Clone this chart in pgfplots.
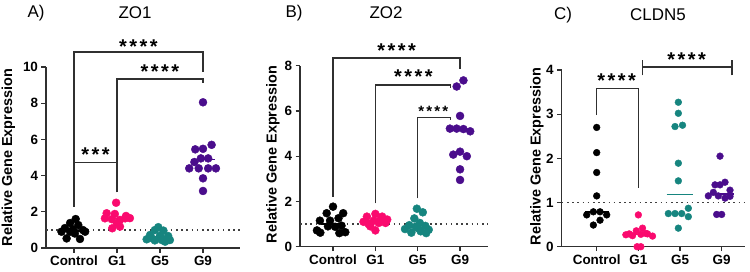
\documentclass[border=0pt]{standalone}
\usepackage{pgfplots}
\pgfplotsset{compat=1.18}
\usepackage{fontspec}
\setmainfont{Liberation Sans}
\definecolor{cpink}{HTML}{FA0A6E}
\definecolor{cteal}{HTML}{16857F}
\definecolor{cpurple}{HTML}{4A0D8C}
\definecolor{cline}{HTML}{303030}
\tikzset{brk/.style={line width=1.3bp, cline}}
\pgfplotsset{
  panel/.style={
    scale only axis, clip=false,
    axis x line=bottom, axis y line=left,
    axis line style={-, line width=1.3bp, cline},
    tick style={line width=1.3bp, cline},
    tick align=outside, major tick length=4.5bp,
    xtick={0,1,2,3}, xticklabels={Control,G1,G5,G9},
    ticklabel style={font=\fontsize{13.5}{13.5}\selectfont\bfseries},
    /pgf/number format/assume math mode=true,
    ymin=0,
    ylabel={Relative Gene Expression},
  },
  ylab/.style={every axis y label/.style={at={(axis description cs:#1)}, rotate=90, anchor=center,
     font=\fontsize{14.5}{14.5}\selectfont\bfseries}},
  dots/.style={only marks, mark=*, mark size=#1},
  med/.style={line width=1.5bp},
  dotl/.style={line width=1.6bp, black!75, dash pattern=on 1.6bp off 3.6bp},
}
\newcommand{\stars}[3]{{\fontsize{#1}{#1}\selectfont\bfseries #3}}
\begin{document}
\begin{tikzpicture}
\path[use as bounding box] (0,0) rectangle (750bp,272bp);
% titles
\node[font=\fontsize{17}{17}\selectfont] at (36bp,259bp) {A)};
\node[font=\fontsize{17}{17}\selectfont] at (135bp,259bp) {ZO1};
\node[font=\fontsize{17}{17}\selectfont] at (294bp,259bp) {B)};
\node[font=\fontsize{17}{17}\selectfont] at (386bp,259bp) {ZO2};
\node[font=\fontsize{17}{17}\selectfont] at (563bp,257bp) {C)};
\node[font=\fontsize{17}{17}\selectfont] at (658bp,257bp) {CLDN5};

% ---------------- Panel A ----------------
\begin{axis}[panel, at={(46bp,24bp)}, anchor=south west,
  width=194bp, height=181bp, xmin=-0.65, xmax=3.86, ymax=10,
  ytick={0,2,4,6,8,10}, ylab={-0.194,0.5}]
\addplot[dotl] coordinates {(-0.65,1) (3.86,1)};
\addplot[med, black] coordinates {(-0.29,0.945) (0.29,0.945)};
\addplot[med, cpink] coordinates {(0.71,1.64) (1.29,1.64)};
\addplot[med, cteal] coordinates {(1.71,0.605) (2.29,0.605)};
\addplot[med, cpurple] coordinates {(2.71,4.9) (3.29,4.9)};
\addplot[dots=4bp, black] coordinates {(0.04,1.6) (-0.09,1.38) (0.10,1.27) (-0.21,1.1) (-0.02,1.03) (0.21,0.99) (-0.09,0.9) (0.02,0.8) (0.26,0.9) (-0.29,0.9) (-0.17,0.53) (0.14,0.5)};
\addplot[dots=4bp, cpink] coordinates {(0.98,2.5) (0.76,1.92) (0.95,1.88) (1.21,1.77) (0.72,1.64) (0.88,1.59) (1.07,1.55) (1.19,1.64) (1.0,1.36) (0.89,1.09) (1.07,1.18) (1.3,1.65)};
\addplot[dots=4bp, cteal] coordinates {(1.96,1.15) (1.88,0.99) (2.08,0.96) (1.77,0.72) (2.19,0.66) (1.69,0.48) (1.88,0.42) (2.04,0.44) (2.23,0.44) (2.0,0.68) (1.8,0.55) (2.12,0.35)};
\addplot[dots=4bp, cpurple] coordinates {(3.0,8.05) (3.2,5.7) (3.0,5.48) (2.82,5.45) (2.95,4.95) (3.12,4.95) (2.8,4.75) (2.68,4.4) (2.9,4.4) (3.12,4.4) (3.3,4.4) (3.0,3.85) (3.0,3.15)};
% brackets
\draw[brk] (axis cs:0,2.27) -- (axis cs:0,10.83) -- (axis cs:3,10.83) -- (axis cs:3,9.72);
\draw[brk] (axis cs:1,3.08) -- (axis cs:1,9.34) -- (axis cs:3,9.34) -- (axis cs:3,9.1);
\draw[brk] (axis cs:0,4.73) -- (axis cs:1,4.73);
\node[anchor=base, inner sep=0, yshift=-11.5bp] at (axis cs:1.5,11.38) {\stars{20}{}{*\kern2.5bp*\kern2.5bp*\kern2.5bp*}};
\node[anchor=base, inner sep=0, yshift=-11.5bp] at (axis cs:2,10.0) {\stars{20}{}{*\kern2.5bp*\kern2.5bp*\kern2.5bp*}};
\node[anchor=base, inner sep=0, yshift=-11.5bp] at (axis cs:0.5,5.41) {\stars{20}{}{*\kern2.5bp*\kern2.5bp*}};
\end{axis}

% ---------------- Panel B ----------------
\begin{axis}[panel, at={(300bp,25.3bp)}, anchor=south west,
  width=188bp, height=181bp, xmin=-0.78, xmax=3.66, ymax=8,
  ytick={0,2,4,6,8}, ylab={-0.144,0.51}]
\addplot[dotl] coordinates {(-0.78,1) (3.66,1)};
\addplot[med, black] coordinates {(-0.29,1.0) (0.29,1.0)};
\addplot[med, cpink] coordinates {(0.71,1.15) (1.29,1.15)};
\addplot[med, cteal] coordinates {(1.71,0.85) (2.29,0.85)};
\addplot[med, cpurple] coordinates {(2.71,5.15) (3.29,5.15)};
\addplot[dots=4bp, black] coordinates {(0,1.77) (0.24,1.48) (-0.15,1.48) (0.13,1.26) (-0.31,1.15) (-0.07,1.15) (0.2,0.93) (-0.12,0.9) (0.05,0.88) (-0.38,0.72) (0.29,0.64) (-0.3,0.62) (0.15,0.6)};
\addplot[dots=4bp, cpink] coordinates {(1.0,1.45) (0.8,1.33) (1.16,1.33) (1.28,1.2) (0.72,1.1) (0.96,1.15) (1.08,1.05) (0.88,0.9) (1.0,0.72) (1.24,1.05) (0.84,1.0) (1.12,1.2)};
\addplot[dots=4bp, cteal] coordinates {(1.98,1.68) (2.12,1.52) (1.92,1.25) (2.05,1.05) (1.8,0.95) (2.18,0.92) (1.7,0.78) (2.0,0.82) (2.26,0.75) (1.85,0.62) (2.2,0.6) (2.07,0.68) (1.95,0.88)};
\addplot[dots=4bp, cpurple] coordinates {(3.08,7.35) (2.92,7.08) (3.0,5.78) (2.76,5.22) (2.92,5.22) (3.08,5.2) (3.24,5.1) (2.84,4.07) (3.0,4.2) (3.16,4.0) (3.0,3.42) (3.0,2.95)};
\draw[brk] (axis cs:0,2.21) -- (axis cs:0,8.34) -- (axis cs:3,8.34) -- (axis cs:3,7.86);
\draw[brk] (axis cs:1,1.92) -- (axis cs:1,7.15) -- (axis cs:2.77,7.15) -- (axis cs:2.77,7.0);
\draw[brk] (axis cs:2,2.14) -- (axis cs:2,5.72) -- (axis cs:2.77,5.72) -- (axis cs:2.77,5.6);
\node[anchor=base, inner sep=0, yshift=-11.5bp] at (axis cs:1.5,8.85) {\stars{20}{}{*\kern2.5bp*\kern2.5bp*\kern2.5bp*}};
\node[anchor=base, inner sep=0, yshift=-11.5bp] at (axis cs:1.9,7.74) {\stars{20}{}{*\kern2.5bp*\kern2.5bp*\kern2.5bp*}};
\node[anchor=base, inner sep=0, yshift=-8.6bp] at (axis cs:2.37,6.12) {\stars{15}{}{*\kern2.2bp*\kern2.2bp*\kern2.2bp*}};
\end{axis}

% ---------------- Panel C ----------------
\begin{axis}[panel, at={(561.7bp,25.3bp)}, anchor=south west,
  width=183.3bp, height=176.7bp, xmin=-0.84, xmax=3.56, ymax=4,
  ytick={0,1,2,3,4}, ylab={-0.136,0.51}]
\addplot[dotl] coordinates {(-0.84,1) (3.56,1)};
\addplot[med, black] coordinates {(-0.29,0.79) (0.29,0.79)};
\addplot[med, cpink] coordinates {(0.71,0.28) (1.29,0.28)};
\addplot[med, cteal] coordinates {(1.68,1.18) (2.32,1.18)};
\addplot[med, cpurple] coordinates {(2.71,1.19) (3.29,1.19)};
\addplot[dots=3.4bp, black] coordinates {(0,2.7) (0,2.13) (0,1.68) (0,1.15) (-0.24,0.72) (-0.08,0.79) (0.08,0.79) (0.24,0.72) (0.08,0.6) (-0.08,0.49)};
\addplot[dots=3.4bp, cpink] coordinates {(1.0,0.72) (1.1,0.42) (0.95,0.36) (0.78,0.29) (1.22,0.29) (0.86,0.25) (1.06,0.28) (1.34,0.24) (0.7,0.27) (0.97,0.0) (1.06,0.0) (1.18,0.3)};
\addplot[dots=3.4bp, cteal] coordinates {(1.96,3.27) (1.96,3.02) (1.88,2.72) (2.06,2.75) (1.96,1.89) (1.96,1.49) (1.72,0.75) (1.88,0.75) (2.04,0.75) (2.2,0.87) (2.2,0.68) (1.96,0.42)};
\addplot[dots=3.4bp, cpurple] coordinates {(2.96,2.05) (3.08,1.46) (2.84,1.4) (2.96,1.4) (3.2,1.28) (2.8,1.23) (2.68,1.15) (2.92,1.15) (3.2,1.14) (3.08,1.1) (2.88,0.73) (3.0,0.73)};
\draw[brk] (axis cs:0,2.98) -- (axis cs:0,3.58) -- (axis cs:1,3.58) -- (axis cs:1,1.32);
\draw[brk] (axis cs:1.10,4.07) -- (axis cs:3.25,4.07);
\draw[brk] (axis cs:1.10,3.88) -- (axis cs:1.10,4.22);
\draw[brk] (axis cs:3.25,3.88) -- (axis cs:3.25,4.22);
\node[anchor=base, inner sep=0, yshift=-11.5bp] at (axis cs:0.48,3.86) {\stars{20}{}{*\kern2.5bp*\kern2.5bp*\kern2.5bp*}};
\node[anchor=base, inner sep=0, yshift=-11.5bp] at (axis cs:2.16,4.34) {\stars{20}{}{*\kern2.5bp*\kern2.5bp*\kern2.5bp*}};
\end{axis}
\end{tikzpicture}
\end{document}
